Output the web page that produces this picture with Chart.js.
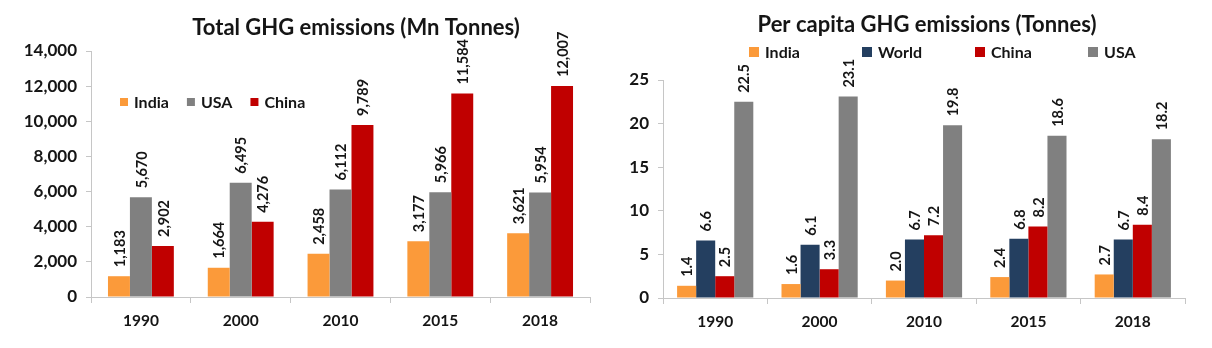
<!DOCTYPE html>
<html>
<head>
<meta charset="utf-8">
<title>GHG emissions</title>
<script src="https://cdn.jsdelivr.net/npm/chart.js@4.4.1/dist/chart.umd.min.js"></script>
<style>
  body { margin: 0; background: #fff; }
  .panel { position: absolute; top: 0; height: 348px; }
  #leftPanel { left: 0; width: 600px; }
  #rightPanel { left: 600px; width: 612px; }
</style>
</head>
<body>
<div class="panel" id="leftPanel"><canvas id="totalChart" width="600" height="348"></canvas></div>
<div class="panel" id="rightPanel"><canvas id="perCapitaChart" width="612" height="348"></canvas></div>
<script>
// years on the x axis (both charts)
const years = ['1990', '2000', '2010', '2015', '2018'];

// total emissions, Mn tonnes
const totalIndia = [1183, 1664, 2458, 3177, 3621];
const totalUSA = [5670, 6495, 6112, 5966, 5954];
const totalChina = [2902, 4276, 9789, 11584, 12007];

// per capita emissions, tonnes
const pcIndia = [1.4, 1.6, 2.0, 2.4, 2.7];
const pcWorld = [6.6, 6.1, 6.7, 6.8, 6.7];
const pcChina = [2.5, 3.3, 7.2, 8.2, 8.4];
const pcUSA = [22.5, 23.1, 19.8, 18.6, 18.2];

// y axis ranges
const totalTicks = { max: 14000, step: 2000 };
const pcTicks = { max: 25, step: 5 };

const ORANGE = '#fb9a3a';
const GREY = '#808080';
const RED = '#c00000';
const NAVY = '#243f60';
const INK = '#151515';
const AXIS = '#c6c6c6';
const FONT = 'Lato';

// rotated value labels above every bar
const valueLabels = {
  id: 'valueLabels',
  afterDatasetsDraw(chart, args, opts) {
    const ctx = chart.ctx;
    ctx.save();
    ctx.font = 'bold 14.5px ' + FONT;
    ctx.fillStyle = INK;
    ctx.textAlign = 'left';
    ctx.textBaseline = 'middle';
    chart.data.datasets.forEach((ds, i) => {
      chart.getDatasetMeta(i).data.forEach((bar, j) => {
        ctx.save();
        ctx.translate(bar.x + 1, bar.y - 9);
        ctx.rotate(-Math.PI / 2);
        ctx.fillText(opts.format(ds.data[j]), 0, 0);
        ctx.restore();
      });
    });
    ctx.restore();
  }
};

// heading and square-marker legend
const headline = {
  id: 'headline',
  afterDraw(chart, args, opts) {
    const ctx = chart.ctx;
    ctx.save();
    ctx.fillStyle = INK;
    ctx.font = 'bold 22px ' + FONT;
    ctx.textAlign = 'center';
    ctx.textBaseline = 'middle';
    ctx.fillText(opts.text, opts.x, opts.y);

    ctx.font = 'bold 16px ' + FONT;
    ctx.textAlign = 'left';
    let x = opts.legendX;
    const box = opts.box;
    chart.data.datasets.forEach(ds => {
      ctx.fillStyle = ds.backgroundColor;
      ctx.fillRect(x, opts.legendY - box / 2, box, box);
      ctx.fillStyle = INK;
      ctx.fillText(ds.label, x + box + 6, opts.legendY + 1);
      const w = ctx.measureText(ds.label).width;
      x += opts.legendStep ? opts.legendStep : box + 6 + w + opts.legendGap;
    });
    ctx.restore();
  }
};

function axes(range, yWidth) {
  return {
    x: {
      afterFit: s => { s.height = 40; },
      grid: { drawOnChartArea: false, tickLength: 6, color: AXIS, offset: true },
      border: { color: AXIS },
      ticks: { color: INK, font: { family: FONT, size: 15.5, weight: 'bold' }, padding: 9 }
    },
    y: {
      min: 0,
      max: range.max,
      afterFit: s => { s.width = yWidth; },
      grid: { drawOnChartArea: false, tickLength: 5, color: AXIS },
      border: { color: AXIS },
      ticks: { stepSize: range.step, color: INK, font: { family: FONT, size: 17, weight: 'bold' }, padding: 9 }
    }
  };
}

function bars(label, data, color, pct) {
  return { label, data, backgroundColor: color, borderWidth: 0, barPercentage: 1, categoryPercentage: pct };
}

new Chart(document.getElementById('totalChart'), {
  type: 'bar',
  data: {
    labels: years,
    datasets: [
      bars('India', totalIndia, ORANGE, 0.66),
      bars('USA', totalUSA, GREY, 0.66),
      bars('China', totalChina, RED, 0.66)
    ]
  },
  options: {
    responsive: false,
    animation: false,
    devicePixelRatio: 1,
    layout: { padding: { top: 51, right: 10, bottom: 11, left: 0 } },
    scales: axes(totalTicks, 91),
    plugins: {
      legend: { display: false },
      tooltip: { enabled: false },
      valueLabels: { format: v => v.toLocaleString('en-US') },
      headline: { text: 'Total GHG emissions (Mn Tonnes)', x: 356, y: 28, legendX: 120, legendY: 102, legendGap: 18, box: 8 }
    }
  },
  plugins: [valueLabels, headline]
});

new Chart(document.getElementById('perCapitaChart'), {
  type: 'bar',
  data: {
    labels: years,
    datasets: [
      bars('India', pcIndia, ORANGE, 0.73),
      bars('World', pcWorld, NAVY, 0.73),
      bars('China', pcChina, RED, 0.73),
      bars('USA', pcUSA, GREY, 0.73)
    ]
  },
  options: {
    responsive: false,
    animation: false,
    devicePixelRatio: 1,
    layout: { padding: { top: 80, right: 27, bottom: 10, left: 0 } },
    scales: axes(pcTicks, 63),
    plugins: {
      legend: { display: false },
      tooltip: { enabled: false },
      valueLabels: { format: v => v.toFixed(1) },
      headline: { text: 'Per capita GHG emissions (Tonnes)', x: 327, y: 25, legendX: 149, legendY: 52, legendStep: 113, box: 10 }
    }
  },
  plugins: [valueLabels, headline]
});
</script>
</body>
</html>
